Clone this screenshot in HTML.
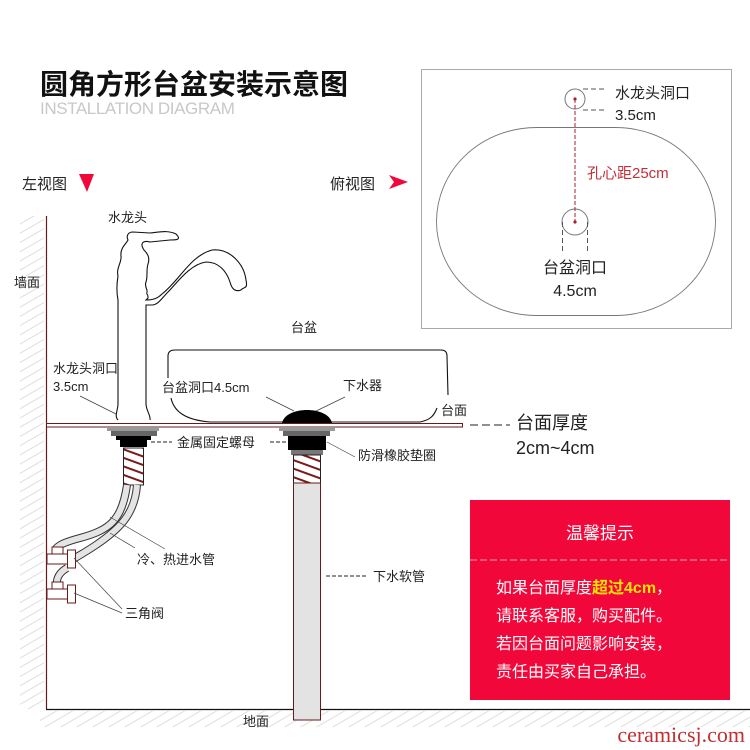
<!DOCTYPE html>
<html><head><meta charset="utf-8"><style>
html,body{margin:0;padding:0;background:#fff;}
svg{display:block;font-family:"Liberation Sans","Noto Sans CJK SC",sans-serif;}
</style></head><body>
<svg width="750" height="750" viewBox="0 0 750 750" xmlns="http://www.w3.org/2000/svg">
<defs>
<pattern id="hatch" width="8" height="8" patternUnits="userSpaceOnUse" patternTransform="rotate(-30)">
<line x1="0" y1="4" x2="8" y2="4" stroke="#d6d6d6" stroke-width="0.8"/>
</pattern>
<pattern id="thr" width="20" height="8" patternUnits="userSpaceOnUse" patternTransform="rotate(20)">
<line x1="0" y1="4" x2="20" y2="4" stroke="#7a1a1a" stroke-width="2"/>
</pattern>
</defs>
<!-- title -->
<text x="40" y="94" font-size="28" font-weight="bold" fill="#111">圆角方形台盆安装示意图</text>
<text x="40" y="114" font-size="17" fill="#c8c8c8" letter-spacing="-0.4">INSTALLATION DIAGRAM</text>
<text x="22" y="189" font-size="15" fill="#222">左视图</text>
<polygon points="79,174 94,174 87,192" fill="#f0083a"/>
<text x="330" y="189" font-size="15" fill="#222">俯视图</text>
<polygon points="389,175 408,182 389,189 394,182" fill="#f0083a"/>

<!-- wall & floor -->
<rect x="20" y="216" width="24" height="493" fill="url(#hatch)"/>
<rect x="40" y="711" width="710" height="16" fill="url(#hatch)"/>
<line x1="46.5" y1="216" x2="46.5" y2="709" stroke="#6b1a1a" stroke-width="1.2"/>
<line x1="46" y1="709.5" x2="750" y2="709.5" stroke="#111" stroke-width="1.2"/>
<text x="14" y="287" font-size="13" fill="#222">墙面</text>
<text x="243" y="726" font-size="13" fill="#222">地面</text>

<!-- faucet -->
<text x="108" y="222" font-size="13" fill="#222">水龙头</text>
<path d="M118,420 C114,416 118,410 118,404 L118,300 C116,290 117,282 118,276 C116,268 122,262 121,256 C120,248 126,244 128,240 C126,236 128,232 133,232 L150,233 C160,232 168,230 176,234 C182,240 176,240 170,240 L150,242 C142,240 140,244 144,250 C148,254 150,258 148,264 C146,270 148,276 146,282 C144,286 148,290 147,292 C146,296 148,292 148,298 L146,300 C154,300 158,298 162,294 C180,280 190,256 212,250 C230,248 244,264 246,280 C248,290 244,286 241,290 C236,292 232,290 230,282 C226,270 218,262 206,262 C190,264 176,284 168,292 C162,298 158,305 152,305 L146,305 L146,404 C146,410 151,416 150,420" fill="none" stroke="#111" stroke-width="1.1"/>
<text x="53" y="373" font-size="13" fill="#222">水龙头洞口</text>
<text x="53" y="391" font-size="13" fill="#222">3.5cm</text>
<line x1="80" y1="396" x2="116" y2="414" stroke="#444" stroke-width="0.8"/>

<!-- basin -->
<text x="291" y="332" font-size="13" fill="#222">台盆</text>
<path d="M168,378 L168,356 Q168,350 175,350 L441,350 Q447,350 447,356 L448,395" fill="none" stroke="#111" stroke-width="1.1"/>
<path d="M171,398 C174,412 186,420 210,422 L420,422 C430,420 434,416 437,408" fill="none" stroke="#111" stroke-width="1.1"/>
<text x="162" y="392" font-size="13" fill="#222">台盆洞口4.5cm</text>
<text x="343" y="390" font-size="13" fill="#222">下水器</text>
<text x="441" y="415" font-size="13" fill="#222">台面</text>
<line x1="266" y1="397" x2="294" y2="411" stroke="#444" stroke-width="0.8"/>
<line x1="345" y1="397" x2="312" y2="413" stroke="#444" stroke-width="0.8"/>

<!-- counter -->
<rect x="46.5" y="423.5" width="416" height="3.5" fill="#fff" stroke="#6b1a1a" stroke-width="1"/>
<line x1="470" y1="425" x2="510" y2="425" stroke="#222" stroke-width="1" stroke-dasharray="8,4"/>
<text x="516" y="429" font-size="18" fill="#222">台面厚度</text>
<text x="516" y="454" font-size="18" fill="#222">2cm~4cm</text>

<!-- faucet nut -->
<rect x="107" y="427" width="52" height="4" fill="#999"/>
<rect x="111" y="431" width="46" height="5" fill="#666"/>
<polygon points="116,436 151,436 151,440 147,440 147,447 120,447 120,440 116,440" fill="#000"/>
<rect x="123.5" y="448" width="20" height="37" fill="#fff" stroke="#222"/>
<rect x="124" y="448.5" width="19" height="36" fill="url(#thr)"/>
<line x1="151" y1="442" x2="172" y2="442" stroke="#222" stroke-dasharray="4,2"/>
<text x="177" y="447" font-size="13" fill="#222">金属固定螺母</text>
<line x1="270" y1="442" x2="289" y2="442" stroke="#222" stroke-dasharray="4,2"/>

<!-- hoses -->
<path d="M127,485 C122,520 110,530 80,538 C65,542 58,545 55,550" fill="none" stroke="#333" stroke-width="8"/>
<path d="M127,485 C122,520 110,530 80,538 C65,542 58,545 55,550" fill="none" stroke="#e4e4e4" stroke-width="6"/>
<path d="M137,485 C135,515 118,530 96,545 C84,553 78,556 72,560" fill="none" stroke="#333" stroke-width="8"/>
<path d="M137,485 C135,515 118,530 96,545 C84,553 78,556 72,560" fill="none" stroke="#e4e4e4" stroke-width="6"/>
<path d="M67,568 C60,572 56,578 57,585" fill="none" stroke="#333" stroke-width="8"/>
<path d="M67,568 C60,572 56,578 57,585" fill="none" stroke="#e4e4e4" stroke-width="6"/>
<!-- valves -->
<g fill="#fff" stroke="#6b1a1a" stroke-width="1">
<rect x="52" y="547" width="11" height="7"/>
<rect x="47" y="554" width="21" height="10"/>
<rect x="67.5" y="550" width="8" height="18"/>
<rect x="52" y="582" width="11" height="7"/>
<rect x="47" y="589" width="21" height="10"/>
<rect x="67.5" y="585" width="8" height="18"/>
</g>
<line x1="110" y1="517" x2="165" y2="549" stroke="#444" stroke-width="0.7"/>
<line x1="110" y1="533" x2="135" y2="548" stroke="#444" stroke-width="0.7"/>
<text x="137" y="564" font-size="13" fill="#222">冷、热进水管</text>
<line x1="74" y1="558" x2="122" y2="609" stroke="#444" stroke-width="0.7"/>
<line x1="74" y1="593" x2="122" y2="613" stroke="#444" stroke-width="0.7"/>
<text x="125" y="618" font-size="13" fill="#222">三角阀</text>

<!-- drain -->
<path d="M282,423 C284,414 296,410 307,410 C318,410 330,414 332,423 Z" fill="#000"/>
<rect x="279" y="427" width="56" height="4" fill="#999"/>
<rect x="283" y="431" width="47" height="5" fill="#666"/>
<rect x="288" y="436" width="38" height="14" fill="#000"/>
<rect x="291" y="450" width="32" height="5" fill="#777"/>
<rect x="293.5" y="455" width="27" height="28" fill="#fff" stroke="#222"/>
<rect x="294" y="455.5" width="26" height="27" fill="url(#thr)"/>
<rect x="293.5" y="483" width="27" height="237" fill="#e3e3e3" stroke="#6b1a1a"/>
<line x1="327" y1="442" x2="355" y2="457" stroke="#444" stroke-width="0.7"/>
<text x="358" y="460" font-size="13" fill="#222">防滑橡胶垫圈</text>
<line x1="326" y1="576" x2="368" y2="576" stroke="#222" stroke-dasharray="4,2"/>
<text x="373" y="581" font-size="13" fill="#222">下水软管</text>

<!-- top view -->
<rect x="421.5" y="69.5" width="310" height="259" fill="#fff" stroke="#aaa"/>
<rect x="436.5" y="127.5" width="279" height="188" rx="100" ry="94" fill="none" stroke="#777" stroke-width="0.9"/>
<circle cx="575" cy="99" r="10" fill="#fff" stroke="#777"/>
<circle cx="575" cy="222" r="13" fill="#fff" stroke="#777"/>
<line x1="575" y1="99" x2="575" y2="222" stroke="#b01e2a" stroke-width="1" stroke-dasharray="4,2"/>
<circle cx="575" cy="99" r="1.6" fill="#b01e2a"/>
<circle cx="575" cy="222" r="1.6" fill="#b01e2a"/>
<line x1="583" y1="89" x2="607" y2="89" stroke="#555" stroke-dasharray="5,3"/>
<line x1="583" y1="110" x2="607" y2="110" stroke="#555" stroke-dasharray="5,3"/>
<text x="615" y="98" font-size="15" fill="#222">水龙头洞口</text>
<text x="615" y="120" font-size="15" fill="#222">3.5cm</text>
<text x="587" y="178" font-size="15" fill="#c0303a">孔心距25cm</text>
<line x1="562.5" y1="222" x2="562.5" y2="252" stroke="#555" stroke-dasharray="5,3"/>
<line x1="587.5" y1="222" x2="587.5" y2="252" stroke="#555" stroke-dasharray="5,3"/>
<text x="575" y="273" font-size="16" fill="#222" text-anchor="middle">台盆洞口</text>
<text x="575" y="296" font-size="16" fill="#222" text-anchor="middle">4.5cm</text>

<!-- warm tips -->
<rect x="470" y="500" width="260" height="200" fill="#f2073a"/>
<line x1="470" y1="560" x2="730" y2="560" stroke="#f9a0b0" stroke-dasharray="7,3" stroke-width="1"/>
<text x="600" y="539" font-size="17" fill="#fff" text-anchor="middle">温馨提示</text>
<g font-size="16" fill="#fff">
<text x="496" y="593">如果台面厚度<tspan fill="#ffe600" font-weight="bold">超过4cm</tspan>，</text>
<text x="496" y="621">请联系客服，购买配件。</text>
<text x="496" y="649">若因台面问题影响安装，</text>
<text x="496" y="677">责任由买家自己承担。</text>
</g>
<text x="745" y="742" font-size="22" fill="#c03030" text-anchor="end" font-family="Liberation Serif,serif">ceramicsj.com</text>
</svg>
</body></html>
